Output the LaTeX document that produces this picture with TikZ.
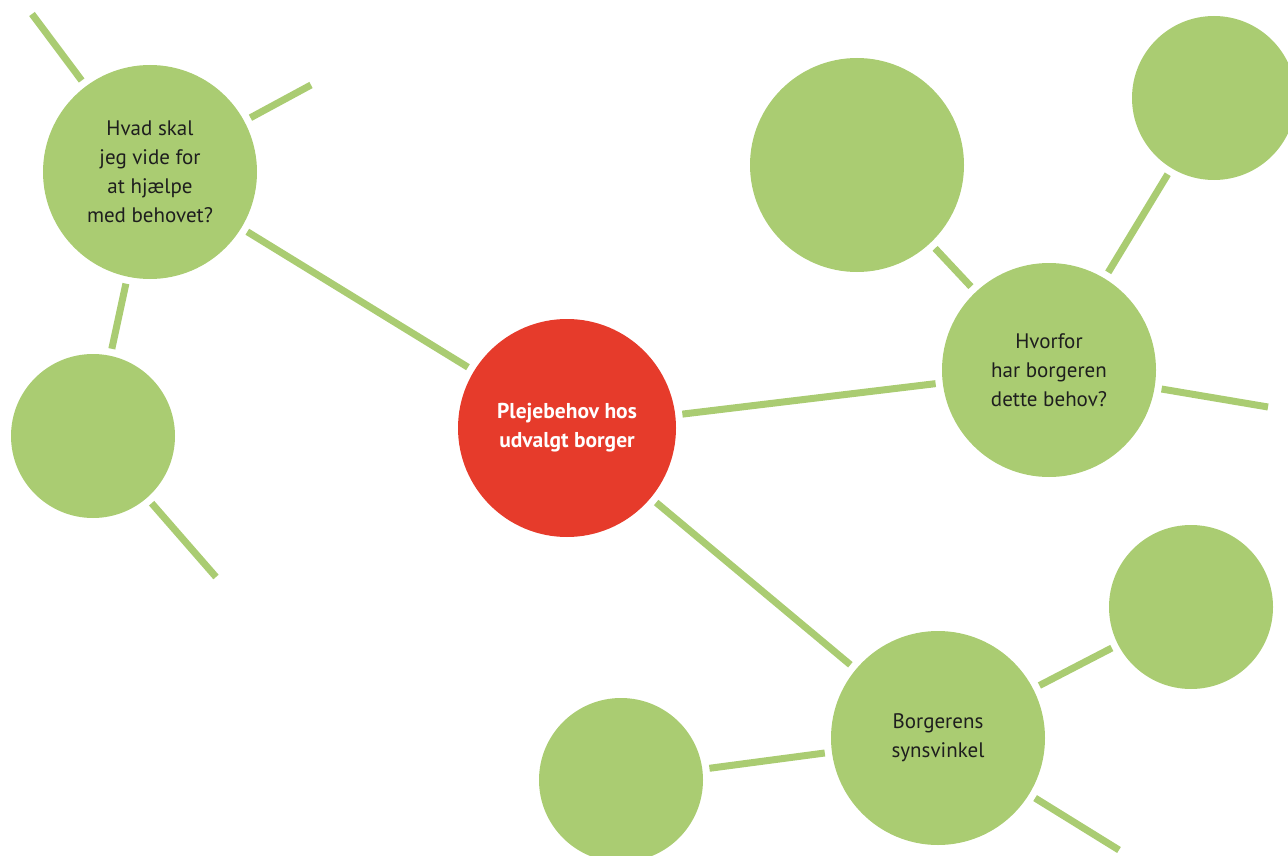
\documentclass[tikz,border=0pt]{standalone}
\usepackage{fontspec}
\setmainfont{PT Sans}
\definecolor{leaf}{HTML}{AACC72}
\definecolor{core}{HTML}{E63B2B}
\definecolor{ink}{HTML}{1E1E1E}
\tikzset{
  bub/.style={circle, fill=leaf, draw=none, minimum size=#1, inner sep=0pt, align=center, text=ink, font=\fontsize{21}{29}\selectfont},
  conn/.style={draw=leaf, line width=7pt, shorten >=7pt, shorten <=7pt},
  stub/.style={draw=leaf, line width=7pt, shorten <=7pt},
}
\begin{document}
\begin{tikzpicture}[x=1pt,y=-1pt]
\useasboundingbox (0,0) rectangle (1288,856);
\begin{scope}
\clip (0,0) rectangle (1288,856);
% nodes
\node[circle, fill=core, minimum size=218pt, inner sep=0pt, align=center, text=white, font=\fontsize{21.5}{29}\selectfont\bfseries] (red) at (567,428) {Plejebehov hos\\udvalgt borger};
\node[bub=214pt] (tl) at (150,172) {Hvad skal\\jeg vide for\\at hjælpe\\med behovet?};
\node[bub=164pt] (lf) at (93,436) {};
\node[bub=214pt] (tr) at (857,165) {};
\node[bub=164pt] (ftr) at (1214,98) {};
\node[bub=214pt] (hv) at (1049,370) {Hvorfor\\har borgeren\\dette behov?};
\node[bub=164pt] (lr) at (1191,607) {};
\node[bub=214pt] (bg) at (938,738) {Borgerens\\synsvinkel};
\node[bub=164pt] (bl) at (621,780) {};
% free ends
\coordinate (e1) at (32,14);
\coordinate (e2) at (311,85);
\coordinate (e3) at (216,577);
\coordinate (e4) at (1268,407);
\coordinate (e5) at (1119,850);
% connectors
\draw[conn] (tl) -- (red);
\draw[conn] (tl) -- (lf);
\draw[conn] (red) -- (hv);
\draw[conn] (red) -- (bg);
\draw[conn] (tr) -- (hv);
\draw[conn] (hv) -- (ftr);
\draw[conn] (bg) -- (lr);
\draw[conn] (bl) -- (bg);
\draw[stub] (tl) -- (e1);
\draw[stub] (tl) -- (e2);
\draw[stub] (lf) -- (e3);
\draw[stub] (hv) -- (e4);
\draw[stub] (bg) -- (e5);
\end{scope}
\end{tikzpicture}
\end{document}
